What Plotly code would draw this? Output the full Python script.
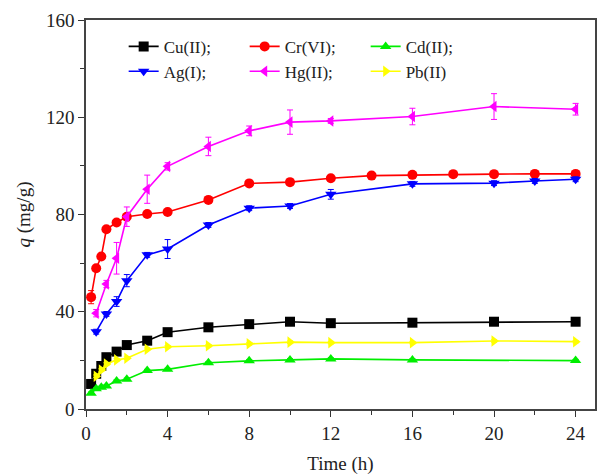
import plotly.graph_objects as go

# ---- data ----
t_cu = [0.25, 0.5, 0.75, 1, 1.5, 2, 3, 4, 6, 8, 10, 12, 16, 20, 24]
q_cu = [10.3, 14.5, 17.7, 21.3, 23.6, 26.3, 28.1, 31.6, 33.6, 34.9, 35.9, 35.3, 35.5, 35.9, 35.9]
e_cu = [0.6, 0.6, 0.6, 0.6, 0.6, 0.6, 0.6, 0.6, 0.6, 0.6, 0.6, 0.6, 0.6, 0.6, 0.6]

t_cr = [0.25, 0.5, 0.75, 1, 1.5, 2, 3, 4, 6, 8, 10, 12, 14, 16, 18, 20, 22, 24]
q_cr = [46.0, 57.9, 62.7, 73.9, 76.7, 79.1, 80.2, 81.0, 86.0, 92.8, 93.3, 94.9, 96.0, 96.3, 96.6, 96.6, 96.7, 96.7]
e_cr = [2.7, 1.0, 1.0, 1.0, 1.0, 1.0, 1.0, 1.0, 1.0, 1.0, 1.0, 1.0, 0.8, 0.8, 0.8, 0.8, 0.8, 0.8]

t_cd = [0.25, 0.5, 0.75, 1, 1.5, 2, 3, 4, 6, 8, 10, 12, 16, 24]
q_cd = [6.5, 8.3, 8.9, 9.5, 11.5, 12.2, 15.8, 16.3, 19.0, 19.8, 20.2, 20.6, 20.2, 19.9]
e_cd = [0.5, 0.5, 0.5, 0.5, 0.5, 0.5, 0.5, 0.5, 0.5, 0.5, 0.5, 0.5, 0.5, 0.5]

t_ag = [0.5, 1, 1.5, 2, 3, 4, 6, 8, 10, 12, 16, 20, 22, 24]
q_ag = [31.8, 39.1, 44.2, 52.8, 63.4, 65.8, 75.7, 82.6, 83.5, 88.3, 92.6, 92.9, 93.8, 94.5]
e_ag = [1.0, 1.0, 2.0, 2.5, 1.0, 3.9, 1.0, 1.0, 1.0, 2.0, 1.0, 1.0, 1.0, 1.0]

t_hg = [0.5, 1, 1.5, 2, 3, 4, 6, 8, 10, 12, 16, 20, 24]
q_hg = [39.4, 51.4, 62.0, 79.1, 90.4, 99.8, 108.0, 114.4, 118.0, 118.5, 120.3, 124.4, 123.3]
e_hg = [1.5, 1.5, 6.5, 4.0, 5.8, 1.5, 3.8, 2.0, 5.0, 1.0, 3.4, 5.3, 2.4]

t_pb = [0.5, 0.75, 1, 1.5, 2, 3, 4, 6, 8, 10, 12, 16, 20, 24]
q_pb = [13.5, 16.0, 18.5, 20.2, 20.9, 24.6, 25.6, 26.0, 26.8, 27.5, 27.3, 27.3, 28.0, 27.7]
e_pb = [0.5, 0.5, 0.5, 0.5, 0.5, 0.5, 0.5, 0.5, 0.5, 0.5, 0.5, 0.5, 0.5, 0.5]

x_ticks = [0, 4, 8, 12, 16, 20, 24]
y_ticks = [0, 40, 80, 120, 160]

series = [
    ("Cu(II);", t_cu, q_cu, e_cu, "#000000", "square", "legend"),
    ("Cr(VI);", t_cr, q_cr, e_cr, "#ff0000", "circle", "legend"),
    ("Cd(II);", t_cd, q_cd, e_cd, "#00ee00", "triangle-up", "legend"),
    ("Ag(I);", t_ag, q_ag, e_ag, "#0000ff", "triangle-down", "legend2"),
    ("Hg(II);", t_hg, q_hg, e_hg, "#ff00ff", "triangle-left", "legend2"),
    ("Pb(II)", t_pb, q_pb, e_pb, "#ffff00", "triangle-right", "legend2"),
]

FONT = "Liberation Serif"

fig = go.Figure()
for name, t, q, e, col, sym, leg in series:
    fig.add_trace(go.Scatter(
        x=t, y=q, name=name, mode="lines+markers",
        line=dict(color=col, width=1.6),
        marker=dict(symbol=sym, size=10, color=col),
        error_y=dict(type="data", array=e, color=col, thickness=1, width=3),
        legend=leg,
    ))

legend_common = dict(
    orientation="h", xanchor="left", yanchor="middle",
    font=dict(family=FONT, size=17, color="#222"),
    bgcolor="rgba(0,0,0,0)", entrywidth=76, entrywidthmode="pixels",
    itemwidth=30, tracegroupgap=0,
)

fig.update_layout(
    width=598, height=475,
    margin=dict(l=86, r=1, t=20, b=66),
    paper_bgcolor="white", plot_bgcolor="white",
    font=dict(family=FONT, size=19, color="#222"),
    showlegend=True,
    legend=dict(x=0.074, y=0.931, **legend_common),
    legend2=dict(x=0.074, y=0.867, **legend_common),
    xaxis=dict(
        range=[0, 24.95], tickvals=x_ticks, ticktext=[str(v) for v in x_ticks],
        ticks="outside", ticklen=6, tickwidth=1.3, tickcolor="#333",
        showline=True, linecolor="#444", linewidth=1.5, mirror=True,
        showgrid=False, zeroline=False,
        minor=dict(ticks="outside", ticklen=4, tickwidth=1.2, tickcolor="#333", dtick=2, tick0=0, showgrid=False),
        title=dict(text="Time (h)", font=dict(family=FONT, size=19), standoff=14),
        tickfont=dict(family=FONT, size=19),
    ),
    yaxis=dict(
        range=[0, 160], tickvals=y_ticks, ticktext=[str(v) for v in y_ticks],
        ticks="outside", ticklen=6, tickwidth=1.3, tickcolor="#333",
        showline=True, linecolor="#444", linewidth=1.5, mirror=True,
        showgrid=False, zeroline=False,
        minor=dict(ticks="outside", ticklen=4, tickwidth=1.2, tickcolor="#333", dtick=20, tick0=0, showgrid=False),
        title=dict(text="<i>q</i> (mg/g)", font=dict(family=FONT, size=19), standoff=10),
        tickfont=dict(family=FONT, size=19),
    ),
)

fig.write_html("out.html")
